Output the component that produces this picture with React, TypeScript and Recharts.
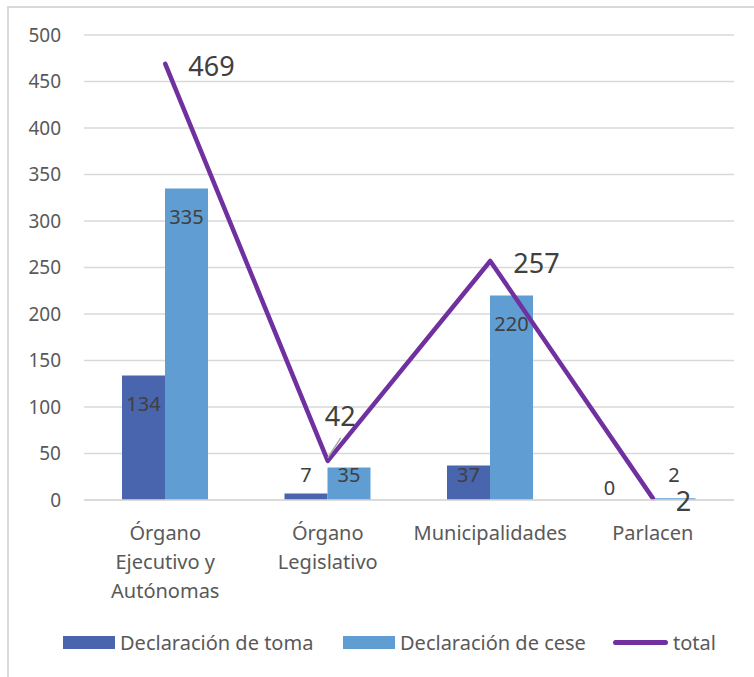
import React from "react";
import {
  ComposedChart,
  Bar,
  Line,
  XAxis,
  YAxis,
  CartesianGrid,
  Legend,
  LabelList,
  Text,
} from "recharts";

const categories = [
  "Órgano Ejecutivo y Autónomas",
  "Órgano Legislativo",
  "Municipalidades",
  "Parlacen",
];
const toma = [134, 7, 37, 0];
const cese = [335, 35, 220, 2];
const total = [469, 42, 257, 2];
const yTicks = [0, 50, 100, 150, 200, 250, 300, 350, 400, 450, 500];

const data = categories.map((name, i) => ({
  name,
  toma: toma[i],
  cese: cese[i],
  total: total[i],
}));

const FONT = "'Noto Sans', 'Open Sans', sans-serif";
const DARK = "#4865ad";
const LIGHT = "#5f9dd2";
const PURPLE = "#7030a0";
const GRID = "#d9d9d9";

function CategoryTick(props: any) {
  const { x, y, payload } = props;
  return (
    <Text
      x={x}
      y={y + 18}
      width={120}
      textAnchor="middle"
      verticalAnchor="start"
      lineHeight={29}
      fill="#595959"
      fontSize={20}
      fontFamily={FONT}
      style={{ fontSize: 20, fontFamily: FONT }}
    >
      {payload.value}
    </Text>
  );
}

function BarLabel(props: any) {
  const { x, y, width, height, value } = props;
  const base = y + height;
  const isZero = value === 0;
  const cy = isZero ? base - 13 : Math.min(y + 28, base - 26);
  const cx = isZero ? x : x + width / 2;
  return (
    <text
      x={cx}
      y={cy}
      textAnchor="middle"
      dominantBaseline="central"
      fill="#404040"
      fontSize={20}
      fontFamily={FONT}
    >
      {value}
    </text>
  );
}

function TotalLabel(props: any) {
  const { x, y, value, index } = props;
  const prev = total[index - 1];
  const next = total[index + 1];
  const isValley =
    prev !== undefined && next !== undefined && value < prev && value < next;
  if (isValley) {
    return (
      <g>
        <line x1={x} y1={y - 3} x2={x + 13} y2={y - 23} stroke="#a6a6a6" strokeWidth={1.5} />
        <text
          x={x - 3}
          y={y - 45}
          textAnchor="start"
          dominantBaseline="central"
          fill="#404040"
          fontSize={27}
          fontFamily={FONT}
        >
          {value}
        </text>
      </g>
    );
  }
  return (
    <text
      x={x + 23}
      y={y + 2}
      textAnchor="start"
      dominantBaseline="central"
      fill="#404040"
      fontSize={27}
      fontFamily={FONT}
    >
      {value}
    </text>
  );
}

function LegendContent() {
  const item = (left: number, swatch: React.ReactNode, label: string) => (
    <div style={{ position: "absolute", left, top: 0, height: 26, display: "flex", alignItems: "center" }}>
      {swatch}
      <span style={{ marginLeft: 5, color: "#595959", fontSize: 20, fontFamily: FONT, whiteSpace: "nowrap" }}>
        {label}
      </span>
    </div>
  );
  return (
    <div style={{ position: "relative", height: 26, width: 754 }}>
      {item(63, <div style={{ width: 52, height: 13, background: DARK }} />, "Declaración de toma")}
      {item(343, <div style={{ width: 52, height: 13, background: LIGHT }} />, "Declaración de cese")}
      {item(
        613,
        <div style={{ width: 55, height: 5, borderRadius: 3, background: PURPLE }} />,
        "total"
      )}
    </div>
  );
}

export default function App() {
  return (
    <div
      style={{
        position: "absolute",
        left: 0,
        top: 0,
        width: 754,
        height: 677,
        overflow: "hidden",
        background: "#fff",
      }}
    >
      <div
        style={{
          position: "absolute",
          left: 7,
          top: 6,
          width: 800,
          height: 720,
          border: `2px solid ${GRID}`,
        }}
      />
      <div style={{ position: "absolute", left: 0, top: 0 }}>
        <ComposedChart
          width={754}
          height={677}
          data={data}
          margin={{ top: 35, right: 20, left: 0, bottom: 57 }}
          barGap={0}
        >
          <CartesianGrid vertical={false} stroke={GRID} strokeWidth={1.5} />
          <XAxis
            dataKey="name"
            axisLine={{ stroke: GRID, strokeWidth: 1.5 }}
            tickLine={false}
            tick={<CategoryTick />}
            height={120}
            interval={0}
          />
          <YAxis
            domain={[0, 500]}
            ticks={yTicks}
            width={84}
            axisLine={false}
            tickLine={false}
            tickSize={0}
            tickMargin={23}
            tick={{ fill: "#595959", fontSize: 19, fontFamily: FONT }}
          />
          <Legend
            verticalAlign="middle"
            align="center"
            wrapperStyle={{ top: 629, left: 0, width: 754 }}
            content={<LegendContent />}
          />
          <Bar
            dataKey="toma"
            name="Declaración de toma"
            fill={DARK}
            barSize={43}
            minPointSize={0.01}
            isAnimationActive={false}
          >
            <LabelList dataKey="toma" content={<BarLabel />} />
          </Bar>
          <Bar dataKey="cese" name="Declaración de cese" fill={LIGHT} barSize={43} isAnimationActive={false}>
            <LabelList dataKey="cese" content={<BarLabel />} />
          </Bar>
          <Line
            dataKey="total"
            name="total"
            stroke={PURPLE}
            strokeWidth={4.5}
            strokeLinecap="round"
            strokeLinejoin="round"
            dot={false}
            activeDot={false}
            type="linear"
            isAnimationActive={false}
          >
            <LabelList dataKey="total" content={<TotalLabel />} />
          </Line>
        </ComposedChart>
      </div>
    </div>
  );
}
